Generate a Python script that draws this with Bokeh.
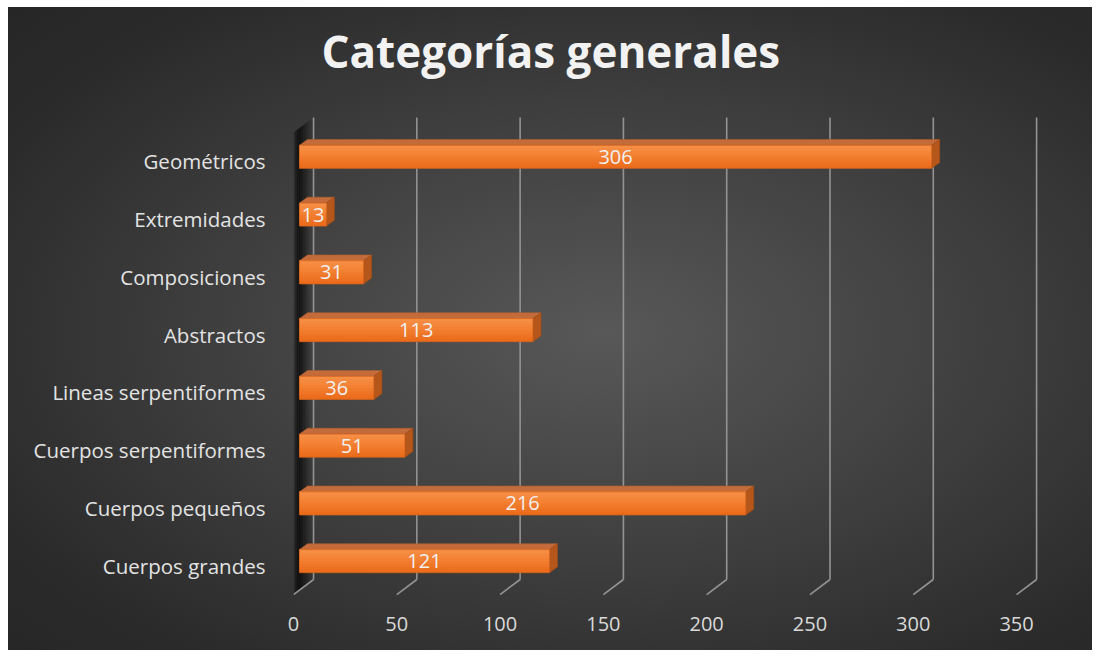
import numpy as np
from bokeh.plotting import figure
from bokeh.models import FixedTicker, Range1d, ColumnDataSource, Title
from bokeh.embed import file_html
from bokeh.resources import INLINE
from bokeh.core.properties import value

# ---------------- data ----------------
categories = ["Cuerpos grandes", "Cuerpos pequeños", "Cuerpos serpentiformes",
              "Lineas serpentiformes", "Abstractos", "Composiciones",
              "Extremidades", "Geométricos"]
counts = [121, 216, 51, 36, 113, 31, 13, 306]
x_ticks = [0, 50, 100, 150, 200, 250, 300, 350]
title_text = "Categorías generales"

# ---------------- 3D geometry (data units) ----------------
DX, DY = 9.7, 0.26      # depth of floor / wall
OX, OY = 2.9, 0.078     # bar front face offset from front plane
BDX, BDY = 3.9, 0.10    # bar depth
H = 0.40                # bar height
Y0, Y1 = -0.5, 7.5      # floor / top of walls (front plane)

FONT = "Open Sans"

# the title panel needs 117px; the figure is lifted by 10px and its top 17px clipped
p = figure(width=1084, height=660, title=None,
           x_range=Range1d(0, 364.5), y_range=Range1d(-0.586, 7.897),
           output_backend="svg", toolbar_location=None,
           min_border_left=285, min_border_right=46,
           min_border_top=117, min_border_bottom=51)

p.styles = {"margin": "-10px 0px 0px 8px",
            "clip-path": "inset(17px 0px 0px 0px)",
            "background": "radial-gradient(ellipse farthest-corner at 55% 52%, #585858 0%, #424242 40%, #2b2b2b 80%, #252525 100%)"}
p.background_fill_alpha = 0
p.border_fill_alpha = 0
p.outline_line_color = None
p.grid.visible = False

main_title = Title(text=title_text, align="left", offset=28,
                   text_font=FONT, text_font_size="44px", text_font_style="bold",
                   text_color="#F2F2F2", standoff=57)
p.add_layout(main_title, "above")

# axes
p.xaxis.ticker = FixedTicker(ticks=x_ticks)
p.xaxis.axis_line_color = None
p.xaxis.major_tick_line_color = None
p.xaxis.minor_tick_line_color = None
p.xaxis.major_label_text_font = FONT
p.xaxis.major_label_text_font_size = "20px"
p.xaxis.major_label_text_color = "#D9D9D9"
p.xaxis.major_label_standoff = 11

ys = list(range(len(categories)))
p.yaxis.ticker = FixedTicker(ticks=ys)
p.yaxis.major_label_overrides = {i: c for i, c in zip(ys, categories)}
p.yaxis.axis_line_color = None
p.yaxis.major_tick_line_color = None
p.yaxis.minor_tick_line_color = None
p.yaxis.major_label_text_font = FONT
p.yaxis.major_label_text_font_size = "20.5px"
p.yaxis.major_label_text_color = "#E3E3E3"
p.yaxis.major_label_standoff = 22

# ---------------- side wall (dark gradient strips) ----------------
n_strips = 12
alphas = [0.25, 0.5, 0.65, 0.7, 0.65, 0.55, 0.45, 0.35, 0.25, 0.15, 0.08, 0.03]
for k in range(n_strips):
    f0, f1 = k / n_strips, (k + 1) / n_strips
    xs = [DX * f0, DX * f1, DX * f1, DX * f0]
    yv = [Y0 + DY * f0, Y0 + DY * f1, Y1 + DY * f1, Y1 + DY * f0]
    p.patch(xs, yv, fill_color="black", fill_alpha=alphas[k], line_color=None)

# ---------------- gridlines (back wall + floor) ----------------
tk = np.array(x_ticks, dtype=float)
p.segment(x0=tk + DX, y0=Y0 + DY, x1=tk + DX, y1=Y1 + DY,
          line_color="#939393", line_width=1.6)
p.segment(x0=tk, y0=Y0, x1=tk + DX, y1=Y0 + DY,
          line_color="#939393", line_width=1.6)

# ---------------- bars ----------------
v = np.array(counts, dtype=float)
yc = np.array(ys, dtype=float) + OY
left = np.full_like(v, OX)
right = v + OX
bot = yc - H / 2
top = yc + H / 2

# top faces
top_xs = [[OX, r, r + BDX, OX + BDX] for r in right]
top_ys = [[t, t, t + BDY, t + BDY] for t in top]
p.patches(top_xs, top_ys, fill_color="#C46B3B", line_color="#B0602F", line_width=0.6)

# side faces
side_xs = [[r, r, r + BDX, r + BDX] for r in right]
side_ys = [[b, t, t + BDY, b + BDY] for b, t in zip(bot, top)]
p.patches(side_xs, side_ys, fill_color="#B5561A", line_color="#A04B14", line_width=0.6)

# front faces (vertical gradient: nested overlays, lighter towards the top)
p.quad(left=left, right=right, bottom=bot, top=top, fill_color="#EB6D1C", line_color=None)
overlay_cols = ["#ED7121", "#EF7627", "#F17B2D", "#F38033", "#F48539", "#F58A3F", "#F68E45"]
ns = len(overlay_cols) + 1
for k, col in enumerate(overlay_cols):
    b0 = bot + H * (k + 1) / ns
    p.quad(left=left, right=right, bottom=b0, top=top, fill_color=col, line_color=None)
p.quad(left=left, right=right, bottom=bot, top=top, fill_alpha=0,
       line_color="#D2621C", line_width=0.8)

# value labels
src = ColumnDataSource(dict(x=OX + v / 2, y=yc, t=[str(c) for c in counts]))
p.text(x="x", y="y", text="t", source=src, text_align="center", text_baseline="middle",
       text_font=value(FONT), text_font_size="20px", text_color="#F0F0F0")

open("out.html", "w").write(file_html(p, INLINE))
